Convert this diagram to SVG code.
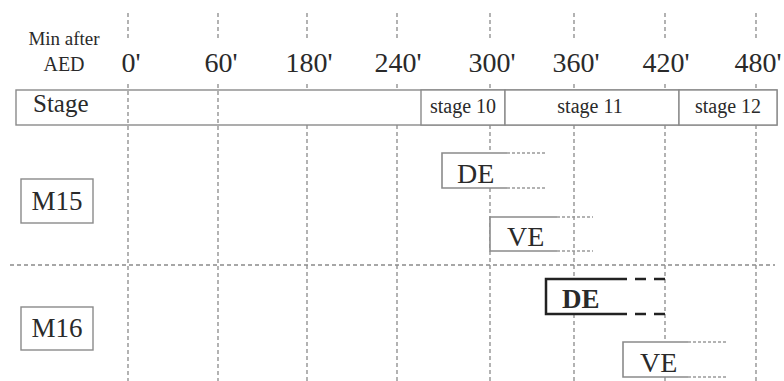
<svg xmlns="http://www.w3.org/2000/svg" width="784" height="381" viewBox="0 0 784 381">
<style>
text{font-family:"Liberation Serif","Times New Roman",serif;fill:#2a2a2a}
.grid{stroke:#8a8a8a;stroke-width:1.3;stroke-dasharray:4 3;fill:none}
.box{fill:#fff;stroke:#8a8a8a;stroke-width:1.4}
.ev{fill:#fff;stroke:#8a8a8a;stroke-width:1.6}
.dot{stroke:#9a9a9a;stroke-width:1.6;stroke-dasharray:3 2;fill:none}
.bold{fill:#fff;stroke:#222;stroke-width:2.5}
.bdash{stroke:#222;stroke-width:2.5;stroke-dasharray:11 8;fill:none}
.tick{font-size:28px;text-anchor:middle}
</style>
<rect width="784" height="381" fill="#fff"/>
<g id="grid">
<path class="grid" d="M128 13V40M218 13V40M307 13V40M397 13V40M490 13V40M574 13V40M665 13V40M756 13V40"/>
<path class="grid" d="M128 84V381M218 84V381M307 84V91M397 84V91M490 84V91M574 84V91M665 84V91M756 84V91"/>
<path class="grid" d="M307 125V381M397 125V381M490 125V381M574 125V381M665 125V381M756 125V381"/>
<path class="grid" d="M10 265H775"/>
</g>
<g id="axis-labels">
<text x="64" y="45" font-size="19" text-anchor="middle">Min after</text>
<text x="64" y="71" font-size="20" text-anchor="middle">AED</text>
<text class="tick" x="131" y="72">0'</text>
<text class="tick" x="221" y="72">60'</text>
<text class="tick" x="309" y="72">180'</text>
<text class="tick" x="398" y="72">240'</text>
<text class="tick" x="492" y="72">300'</text>
<text class="tick" x="576" y="72">360'</text>
<text class="tick" x="666" y="72">420'</text>
<text class="tick" x="758" y="72">480'</text>
</g>
<g id="stage-row">
<rect x="16" y="90" width="761" height="35" fill="none" stroke="#8a8a8a" stroke-width="1.4"/>
<rect class="box" x="421" y="90" width="84" height="35"/>
<rect class="box" x="505" y="90" width="174" height="35"/>
<rect class="box" x="679" y="90" width="98" height="35"/>
<text x="33" y="112" font-size="25">Stage</text>
<text x="463" y="113" font-size="20" text-anchor="middle">stage 10</text>
<text x="590" y="113" font-size="20" text-anchor="middle">stage 11</text>
<text x="728" y="113" font-size="20" text-anchor="middle">stage 12</text>
</g>
<g id="M15">
<rect class="box" x="21" y="179" width="72" height="44"/>
<text x="57" y="210" font-size="27" text-anchor="middle">M15</text>
</g>
<g id="M16">
<rect class="box" x="21" y="307" width="72" height="43"/>
<text x="57" y="337" font-size="27" text-anchor="middle">M16</text>
</g>
<g id="M15-DE">
<rect x="442" y="153" width="65" height="35" fill="#fff" stroke="none"/>
<path class="ev" fill="none" d="M507 153H442V188H507"/>
<path class="dot" d="M507 153H545M507 188H545"/>
<text x="457" y="183" font-size="28">DE</text>
</g>
<g id="M15-VE">
<rect x="490" y="217" width="67" height="34" fill="#fff" stroke="none"/>
<path class="ev" fill="none" d="M557 217H490V251H557"/>
<path class="dot" d="M557 217H593M557 251H593"/>
<text x="507" y="246" font-size="28">VE</text>
</g>
<g id="M16-DE">
<rect x="546" y="279" width="81" height="35" fill="#fff" stroke="none"/>
<path class="bold" fill="none" d="M627 279H546V314H627"/>
<path class="bdash" d="M635 279H666M635 314H666"/>
<text x="562" y="308" font-size="27" font-weight="bold">DE</text>
</g>
<g id="M16-VE">
<rect x="623" y="342" width="65" height="35" fill="#fff" stroke="none"/>
<path class="ev" fill="none" d="M688 342H623V377H688"/>
<path class="dot" d="M688 342H727M688 377H727"/>
<text x="640" y="372" font-size="28">VE</text>
</g>
</svg>
